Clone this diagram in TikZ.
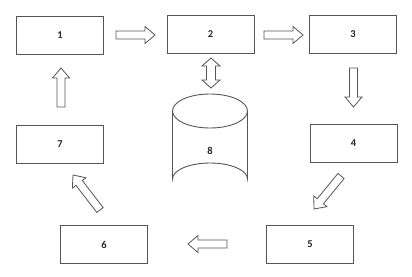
\documentclass[tikz,border=0pt]{standalone}
\usepackage{fontspec}
\setmainfont{Carlito}
\usetikzlibrary{calc}
\definecolor{linec}{HTML}{555555}
\tikzset{
  lbl/.style={font=\bfseries\fontsize{10.5}{12}\selectfont, text=black!85},
  box/.style={draw=linec, line width=0.9pt, minimum width=87pt, minimum height=38pt, inner sep=0pt, lbl},
  barrowline/.style={draw=linec, line width=0.8pt, line join=miter},
}
% single block arrow from #1 to #2
\newcommand\blockarrow[2]{%
  \draw[barrowline] let \p1=($(#2)-(#1)$), \n1={atan2(\y1,\x1)}, \n2={veclen(\x1,\y1)} in
    ($(#1)+(\n1+90:4pt)$) -- ($(#1)+(\n1:\n2-10pt)+(\n1+90:4pt)$)
    -- ($(#1)+(\n1:\n2-10pt)+(\n1+90:8.5pt)$) -- (#2)
    -- ($(#1)+(\n1:\n2-10pt)+(\n1-90:8.5pt)$) -- ($(#1)+(\n1:\n2-10pt)+(\n1-90:4pt)$)
    -- ($(#1)+(\n1-90:4pt)$) -- cycle;}
% double block arrow between #1 and #2
\newcommand\doubleblockarrow[2]{%
  \draw[barrowline] let \p1=($(#2)-(#1)$), \n1={atan2(\y1,\x1)}, \n2={veclen(\x1,\y1)} in
    (#1) -- ($(#1)+(\n1:8pt)+(\n1+90:9pt)$) -- ($(#1)+(\n1:8pt)+(\n1+90:4.5pt)$)
    -- ($(#1)+(\n1:\n2-8pt)+(\n1+90:4.5pt)$) -- ($(#1)+(\n1:\n2-8pt)+(\n1+90:9pt)$)
    -- (#2)
    -- ($(#1)+(\n1:\n2-8pt)+(\n1-90:9pt)$) -- ($(#1)+(\n1:\n2-8pt)+(\n1-90:4.5pt)$)
    -- ($(#1)+(\n1:8pt)+(\n1-90:4.5pt)$) -- ($(#1)+(\n1:8pt)+(\n1-90:9pt)$) -- cycle;}
\begin{document}
\begin{tikzpicture}[x=1pt,y=-1pt]
\useasboundingbox[fill=white] (0,0) rectangle (412,276);
\node[box] (n1) at (60,35) {1};
\node[box] (n2) at (210.5,34) {2};
\node[box] (n3) at (353,34) {3};
\node[box] (n4) at (353.5,143) {4};
\node[box] (n7) at (60,144) {7};
\node[box] (n6) at (104,244.5) {6};
\node[box] (n5) at (310,244.5) {5};
% cylinder
\coordinate (ctop) at (210,111);
\coordinate (cbot) at (210,179);
\draw[linec, line width=0.9pt] (ctop) ellipse [x radius=37.5, y radius=17];
\draw[linec, line width=0.9pt] ($(ctop)+(-37.5,0)$) -- ($(cbot)+(-37.5,0)$)
  arc[start angle=180, end angle=360, x radius=37.5, y radius=16] -- ($(ctop)+(37.5,0)$);
\node[lbl] (n8) at (210,151) {8};
% arrow end points
\coordinate (a12s) at (116,35); \coordinate (a12e) at (155,35);
\coordinate (a23s) at (264,35); \coordinate (a23e) at (303,35);
\coordinate (a34s) at (353.5,68); \coordinate (a34e) at (353.5,107);
\coordinate (a45s) at (341,176); \coordinate (a45e) at (314,209);
\coordinate (a56s) at (227,244); \coordinate (a56e) at (188,244);
\coordinate (a67s) at (100,210); \coordinate (a67e) at (73,175);
\coordinate (a71s) at (61,107); \coordinate (a71e) at (61,68);
\coordinate (a28s) at (211,58); \coordinate (a28e) at (211,88);
\blockarrow{a12s}{a12e}
\blockarrow{a23s}{a23e}
\blockarrow{a34s}{a34e}
\blockarrow{a45s}{a45e}
\blockarrow{a56s}{a56e}
\blockarrow{a67s}{a67e}
\blockarrow{a71s}{a71e}
\doubleblockarrow{a28s}{a28e}
\end{tikzpicture}
\end{document}
